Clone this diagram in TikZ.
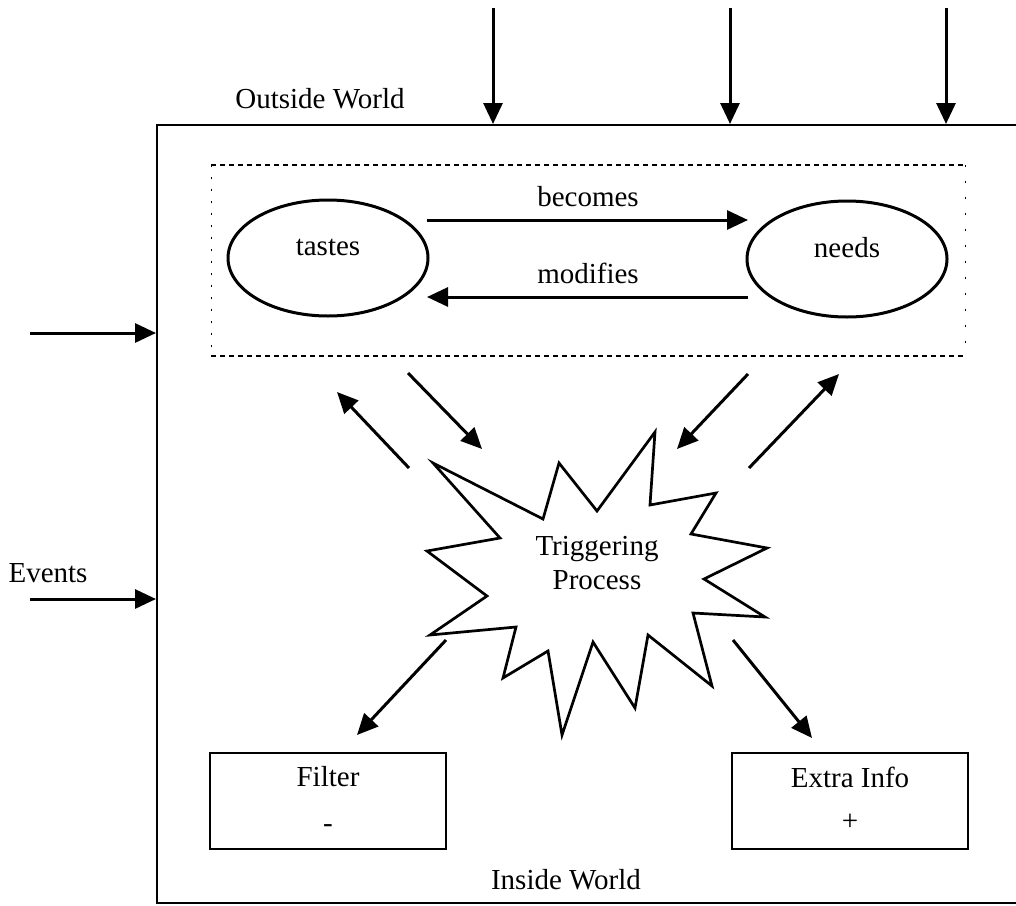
\documentclass[tikz,border=0pt]{standalone}
\usepackage{fontspec}
\setmainfont{Liberation Serif}
\usetikzlibrary{arrows.meta,shapes.geometric}
\begin{document}
\begin{tikzpicture}[x=1pt,y=-1pt,
  txt/.style={font=\fontsize{29}{34}\selectfont, inner sep=0pt},
  arr/.style={line width=3pt, -{Triangle[length=21pt,width=19pt]}},
  frame/.style={line width=2.6pt},
  ell/.style={draw, ellipse, line width=3pt, minimum width=200pt, minimum height=116pt, inner sep=0pt},
  boxx/.style={draw, line width=2.8pt, minimum width=236pt, minimum height=96pt, inner sep=0pt},
  dots/.style={line width=1.3pt, dash pattern=on 5pt off 4pt}]
\useasboundingbox (0,0) rectangle (1016,905);
% outer world frame
\draw[frame] (1016,125) -- (157,125) -- (157,903) -- (1016,903);
\node[txt] (outside) at (320,99) {Outside World};
\node[txt] (inside) at (566,880) {Inside World};
\node[txt] (events) at (48,573) {Events};
% top inputs
\coordinate (t1s) at (493,8);   \coordinate (t1e) at (493,124);
\coordinate (t2s) at (730,8);   \coordinate (t2e) at (730,124);
\coordinate (t3s) at (946,8);   \coordinate (t3e) at (946,124);
\draw[arr] (t1s) -- (t1e);
\draw[arr] (t2s) -- (t2e);
\draw[arr] (t3s) -- (t3e);
% left inputs
\coordinate (l1s) at (30,333);  \coordinate (l1e) at (156,333);
\coordinate (l2s) at (30,599);  \coordinate (l2e) at (156,599);
\draw[arr] (l1s) -- (l1e);
\draw[arr] (l2s) -- (l2e);
% dotted group
\draw[dots] (211,165) -- (965,165);
\draw[dots] (211,356) -- (965,356);
\draw[line width=1pt, dash pattern=on 2pt off 10pt] (211,165) -- (211,356);
\draw[line width=1pt, dash pattern=on 2pt off 14pt] (965,165) -- (965,356);
% ellipses
\node[ell] (tastes) at (328,258) {};
\node[txt] at (328,247) {tastes};
\node[ell] (needs) at (847,259) {};
\node[txt] at (847,248) {needs};
\coordinate (b1) at (427,220); \coordinate (b2) at (748,220);
\coordinate (m1) at (748,297); \coordinate (m2) at (427,297);
\draw[arr] (b1) -- (b2);
\draw[arr] (m1) -- (m2);
\node[txt] (becomes) at (588,197) {becomes};
\node[txt] (modifies) at (588,273) {modifies};
% starburst
\draw[line width=2.7pt, line join=miter] (433,463) -- (543,519) -- (559,463) -- (597,511) -- (655,432) -- (650,505) -- (716,493) -- (691,534) -- (767,548) -- (704,579) -- (765,617) -- (693,613) -- (712,686) -- (648,635) -- (635,708) -- (593,642) -- (562,735) -- (548,651) -- (503,678) -- (516,627) -- (430,635) -- (487,596) -- (427,551) -- (500,538) -- cycle;
\node[txt, align=center] (trig) at (597,563) {Triggering\\Process};
% arrows around the burst
\coordinate (a1s) at (409,468); \coordinate (a1e) at (337,392);
\coordinate (a2s) at (408,373); \coordinate (a2e) at (482,449);
\coordinate (a3s) at (748,374); \coordinate (a3e) at (677,449);
\coordinate (a4s) at (749,468); \coordinate (a4e) at (839,374);
\draw[arr] (a1s) -- (a1e);
\draw[arr] (a2s) -- (a2e);
\draw[arr] (a3s) -- (a3e);
\draw[arr] (a4s) -- (a4e);
% output boxes
\node[boxx] (filter) at (328,801) {};
\node[txt] at (328,777) {Filter};
\node[txt] at (328,829) {-};
\node[boxx] (extra) at (850,801) {};
\node[txt] at (850,777) {Extra Info};
\node[txt] at (850,822) {+};
\coordinate (f1) at (446,640); \coordinate (f2) at (357,735);
\coordinate (e1) at (733,640); \coordinate (e2) at (812,738);
\draw[arr] (f1) -- (f2);
\draw[arr] (e1) -- (e2);
\end{tikzpicture}
\end{document}
